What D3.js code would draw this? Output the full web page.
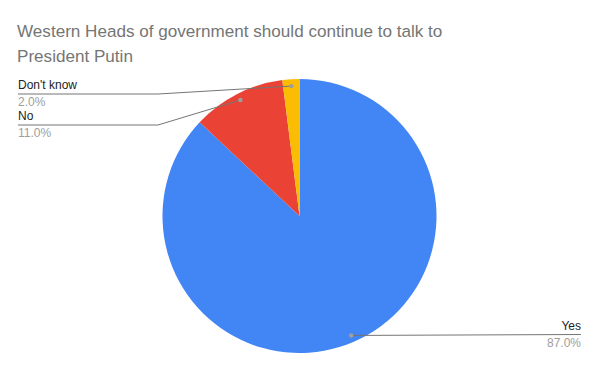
<!DOCTYPE html>
<html>
<head>
<meta charset="utf-8">
<script src="https://cdn.jsdelivr.net/npm/d3@7"></script>
<style>
  body { margin: 0; background: #fff; }
  text { font-family: "Liberation Sans", Arial, sans-serif; }
</style>
</head>
<body>
<div id="chart"></div>
<script>
// chart data
const categories = ["Yes", "No", "Don't know"];
const values = [87, 11, 2];
const colors = ["#4285f4", "#ea4335", "#fbbc04"];
const titleLines = ["Western Heads of government should continue to talk to", "President Putin"];

const width = 600, height = 371;
const cx = 299.5, cy = 216, radius = 137;

const svg = d3.select("#chart").append("svg")
    .attr("width", width)
    .attr("height", height);

// title
svg.append("g").selectAll("text")
    .data(titleLines)
  .enter().append("text")
    .attr("x", 17)
    .attr("y", (d, i) => 37 + i * 24.5)
    .attr("font-size", 17.1)
    .attr("fill", "#757575")
    .text(d => d);

const data = categories.map((c, i) => ({ name: c, value: values[i], color: colors[i] }));
const pie = d3.pie().value(d => d.value).sort(null);
const arcs = pie(data);
const arc = d3.arc().innerRadius(0).outerRadius(radius);
const dotArc = d3.arc().innerRadius(radius * 0.95).outerRadius(radius * 0.95);

const g = svg.append("g").attr("transform", "translate(" + cx + "," + cy + ")");

g.selectAll("path.slice")
    .data(arcs)
  .enter().append("path")
    .attr("class", "slice")
    .attr("d", arc)
    .attr("fill", d => d.data.color);

// label layout: left side labels stacked, right side label at bottom
const labelPos = {
  "Don't know": { side: "left", y: 94 },
  "No": { side: "left", y: 125 },
  "Yes": { side: "right", y: 334.5 }
};

const total = d3.sum(values);
const fmt = d3.format(".1f");

arcs.forEach(a => {
  const p = dotArc.centroid(a);
  const px = cx + p[0], py = cy + p[1];
  const lp = labelPos[a.data.name];
  const lg = svg.append("g");
  let pts;
  if (lp.side === "left") {
    pts = [[18, lp.y], [158, lp.y], [px, py]];
  } else {
    pts = [[px, py], [581, lp.y]];
  }
  lg.append("path")
    .attr("d", d3.line()(pts))
    .attr("fill", "none")
    .attr("stroke", "#757575")
    .attr("stroke-width", 1);
  lg.append("circle")
    .attr("cx", px).attr("cy", py).attr("r", 2.2)
    .attr("fill", "#9e9e9e");
  const tx = lp.side === "left" ? 18 : 581;
  const anchor = lp.side === "left" ? "start" : "end";
  lg.append("text")
    .attr("x", tx).attr("y", lp.y - 5)
    .attr("text-anchor", anchor)
    .attr("font-size", 12)
    .attr("fill", "#222")
    .text(a.data.name);
  lg.append("text")
    .attr("x", tx).attr("y", lp.y + 12)
    .attr("text-anchor", anchor)
    .attr("font-size", 12)
    .attr("fill", "#9e9e9e")
    .text(fmt(a.data.value / total * 100) + "%");
});
</script>
</body>
</html>
